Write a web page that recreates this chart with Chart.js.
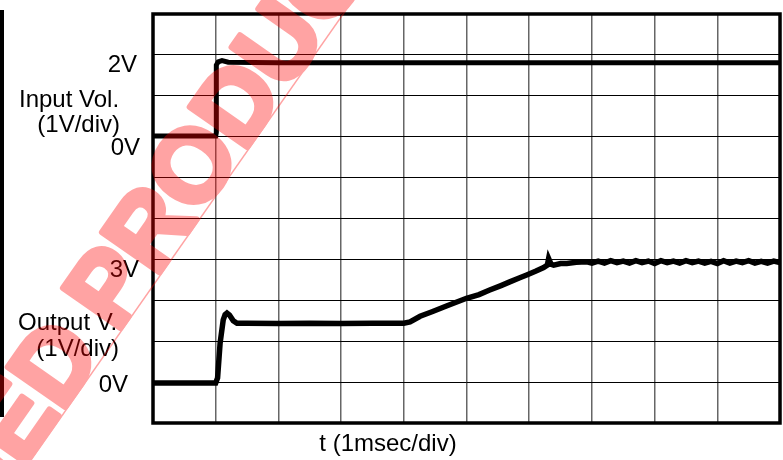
<!DOCTYPE html>
<html>
<head>
<meta charset="utf-8">
<script src="https://cdn.jsdelivr.net/npm/chart.js@4/dist/chart.umd.min.js"></script>
<style>
  html, body { margin: 0; padding: 0; background: #fff; }
</style>
</head>
<body>
<canvas id="scopeChart" width="783" height="460"></canvas>
<script>
// time in ms (1 ms/div), voltages in V (1 V/div)
const inT = [0, 1.0, 1.01, 1.01, 1.04, 1.1, 1.2, 2, 4, 6, 8, 10];
const inV = [0.02, 0.02, 0.1, 1.75, 1.83, 1.86, 1.82, 1.81, 1.81, 1.81, 1.81, 1.81];

const outT = [0, 1.0, 1.03, 1.07, 1.12, 1.15, 1.18, 1.22, 1.28, 1.34, 1.5, 2.0, 2.5, 3.0, 3.5, 4.0,
  4.1, 4.26, 4.45, 4.68, 5.0, 5.2, 5.37, 5.55, 5.69, 5.85, 5.96, 6.1, 6.23, 6.29, 6.31, 6.35, 6.39,
  6.5, 6.6, 6.75, 6.92, 7.0, 7.1, 7.2, 7.3, 7.4, 7.5, 7.6, 7.7, 7.8, 7.9, 8.0, 8.1, 8.2, 8.3, 8.4,
  8.5, 8.6, 8.7, 8.8, 8.9, 9.0, 9.1, 9.2, 9.3, 9.4, 9.5, 9.6, 9.7, 9.8, 9.9, 10];
const outV = [-0.02, -0.02, 0.1, 0.95, 1.52, 1.65, 1.69, 1.64, 1.5, 1.44, 1.44, 1.43, 1.44, 1.43, 1.44, 1.44,
  1.47, 1.61, 1.72, 1.86, 2.05, 2.14, 2.25, 2.36, 2.45, 2.55, 2.62, 2.71, 2.80, 2.86, 3.02, 2.88, 2.86,
  2.9, 2.9, 2.93, 2.94, 2.91, 2.96, 2.91, 2.97, 2.92, 2.96, 2.91, 2.97, 2.92, 2.96, 2.9, 2.97, 2.92, 2.96, 2.91,
  2.97, 2.92, 2.96, 2.91, 2.95, 2.9, 2.97, 2.91, 2.96, 2.92, 2.97, 2.91, 2.95, 2.91, 2.96, 2.92];

const inLabels = ['Input Vol.', '(1V/div)', '2V', '0V'];
const outLabels = ['Output V.', '(1V/div)', '3V', '0V'];
const xTitle = 't (1msec/div)';
const stamp = ['DISCONTINUED', 'PRODUCT'];

function toPoints(ts, vs) {
  return ts.map((t, i) => ({ x: t, y: vs[i] }));
}

const textFont = '24px "Liberation Sans", Arial, sans-serif';

function drawStamp(ctx) {
  const off = document.createElement('canvas');
  off.width = 783;
  off.height = 460;
  const o = off.getContext('2d');
  o.fillStyle = '#ff0000';
  o.strokeStyle = '#ff0000';

  // thin rule under the stamp
  o.lineWidth = 1.5;
  o.beginPath();
  o.moveTo(353 + 0.70 * 40, -40);
  o.lineTo(353 - 0.70 * 520, 520);
  o.stroke();

  const size = 102;
  o.font = 'bold ' + size + 'px "Liberation Sans", Arial, sans-serif';
  o.lineJoin = 'round';
  o.lineWidth = 6;
  const w = s => o.measureText(s).width;
  const pCenter = w('P') / 2;
  const capH = size * 0.716;
  o.translate(106, 285);
  o.rotate(-55 * Math.PI / 180);
  o.textBaseline = 'alphabetic';
  o.textAlign = 'left';
  o.fillText(stamp[1], -pCenter, capH / 2);
  o.strokeText(stamp[1], -pCenter, capH / 2);
  o.textAlign = 'right';
  const endFirst = -pCenter - w(' ') * 0.8;
  o.fillText(stamp[0], endFirst, capH / 2);
  o.strokeText(stamp[0], endFirst, capH / 2);

  ctx.save();
  ctx.globalAlpha = 0.36;
  ctx.drawImage(off, 0, 0);
  ctx.restore();
}

const decorations = {
  id: 'decorations',
  afterDraw(chart) {
    const ctx = chart.ctx;
    const a = chart.chartArea;
    ctx.save();

    // plot frame
    ctx.strokeStyle = '#000';
    ctx.lineWidth = 3.5;
    ctx.strokeRect(a.left, a.top, a.right - a.left, a.bottom - a.top);

    // left edge bar
    ctx.lineWidth = 4;
    ctx.beginPath();
    ctx.moveTo(2, 10);
    ctx.lineTo(2, 417);
    ctx.stroke();

    // text labels
    ctx.fillStyle = '#000';
    ctx.font = textFont;
    ctx.textBaseline = 'alphabetic';
    ctx.textAlign = 'left';
    ctx.fillText(inLabels[0], 19, 107);
    ctx.fillText(outLabels[0], 18, 330);
    ctx.textAlign = 'right';
    ctx.fillText(inLabels[1], 120, 132);
    ctx.fillText(inLabels[2], 137, 72);
    ctx.fillText(inLabels[3], 140, 155);
    ctx.fillText(outLabels[1], 119, 356);
    ctx.fillText(outLabels[2], 139, 277);
    ctx.fillText(outLabels[3], 128, 392);
    ctx.textAlign = 'center';
    ctx.fillText(xTitle, 388, 451);
    ctx.restore();

    drawStamp(ctx);
  }
};

const chart = new Chart(document.getElementById('scopeChart').getContext('2d'), {
  type: 'line',
  data: {
    datasets: [
      {
        label: 'Input',
        data: toPoints(inT, inV),
        yAxisID: 'yIn',
        borderColor: '#000',
        borderWidth: 5,
        pointRadius: 0,
        tension: 0
      },
      {
        label: 'Output',
        data: toPoints(outT, outV),
        yAxisID: 'yOut',
        borderColor: '#000',
        borderWidth: 5.5,
        pointRadius: 0,
        tension: 0
      }
    ]
  },
  options: {
    responsive: false,
    animation: false,
    layout: { padding: { left: 153, top: 14, right: 3, bottom: 37 } },
    plugins: {
      legend: { display: false },
      tooltip: { enabled: false }
    },
    scales: {
      x: {
        type: 'linear',
        min: 0,
        max: 10,
        ticks: { stepSize: 1, display: false },
        grid: { color: '#666', lineWidth: 1.5, drawTicks: false },
        border: { display: false }
      },
      yIn: {
        type: 'linear',
        position: 'left',
        min: -7,
        max: 3,
        ticks: { stepSize: 1, display: false },
        grid: { color: '#000', lineWidth: 1, drawTicks: false },
        border: { display: false }
      },
      yOut: {
        type: 'linear',
        display: false,
        min: -1,
        max: 9
      }
    }
  },
  plugins: [decorations]
});
</script>
</body>
</html>
